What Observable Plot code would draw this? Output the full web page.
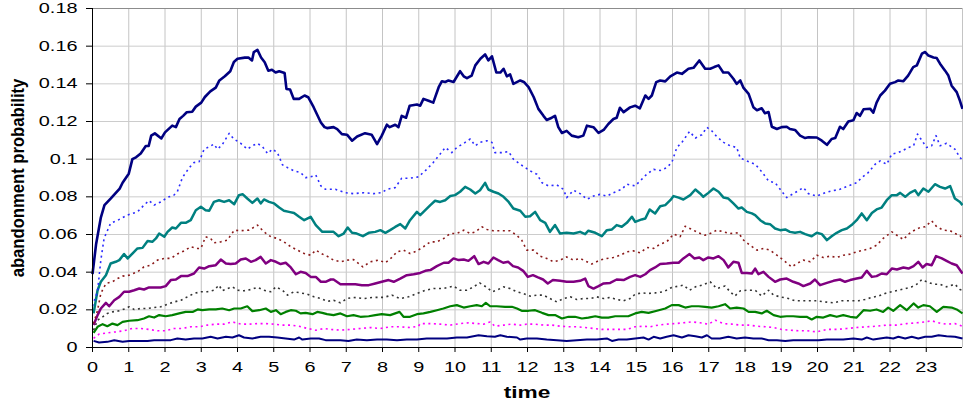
<!DOCTYPE html>
<html>
<head>
<meta charset="utf-8">
<script src="https://cdn.jsdelivr.net/npm/d3@7"></script>
<script src="https://cdn.jsdelivr.net/npm/@observablehq/plot@0.6"></script>
<style>
  html, body { margin: 0; padding: 0; background: #fff; }
  #chart svg { display: block; }
</style>
</head>
<body>
<div id="chart"></div>
<script>
// ---- data: [time (hours), abandonment probability] ----
const seriesTopNavy = [[0,0.039],[0.1,0.055],[0.23,0.069],[0.33,0.0756],[0.5,0.079],[0.75,0.0844],[0.83,0.0875],[1.0,0.0923],[1.1,0.100],[1.2,0.101],[1.33,0.103],[1.47,0.107],[1.55,0.107],[1.62,0.1125],[1.72,0.1137],[1.9,0.111],[2.0,0.1142],[2.2,0.1178],[2.3,0.117],[2.4,0.1213],[2.5,0.123],[2.6,0.1249],[2.75,0.1252],[2.85,0.1279],[3.0,0.130],[3.1,0.133],[3.25,0.136],[3.4,0.138],[3.5,0.1418],[3.65,0.144],[3.8,0.1467],[3.9,0.1516],[4.0,0.1533],[4.2,0.1539],[4.3,0.154],[4.4,0.1524],[4.45,0.1569],[4.55,0.158],[4.65,0.154],[4.75,0.1515],[4.85,0.147],[4.95,0.1475],[5.05,0.146],[5.15,0.1467],[5.3,0.1457],[5.35,0.1373],[5.45,0.137],[5.55,0.132],[5.7,0.132],[5.85,0.1338],[5.95,0.1329],[6.1,0.1276],[6.3,0.1195],[6.4,0.117],[6.47,0.1165],[6.65,0.117],[6.75,0.116],[6.88,0.1133],[7.02,0.113],[7.16,0.1098],[7.3,0.112],[7.52,0.1138],[7.7,0.113],[7.85,0.108],[7.98,0.1125],[8.12,0.1183],[8.2,0.117],[8.35,0.1183],[8.44,0.117],[8.53,0.123],[8.65,0.122],[8.75,0.1284],[8.95,0.129],[9.04,0.1284],[9.13,0.132],[9.27,0.131],[9.4,0.130],[9.55,0.1382],[9.64,0.1414],[9.73,0.141],[9.82,0.1418],[9.96,0.141],[10.14,0.1467],[10.24,0.144],[10.33,0.143],[10.46,0.1444],[10.56,0.1498],[10.7,0.1533],[10.83,0.1556],[10.92,0.1524],[11.02,0.1546],[11.14,0.146],[11.25,0.146],[11.34,0.148],[11.43,0.144],[11.52,0.145],[11.61,0.14],[11.8,0.1418],[11.9,0.141],[12.03,0.1382],[12.17,0.133],[12.3,0.1267],[12.44,0.123],[12.53,0.1208],[12.67,0.122],[12.76,0.123],[12.85,0.117],[12.95,0.1139],[13.08,0.115],[13.22,0.1125],[13.4,0.1116],[13.54,0.1125],[13.64,0.1178],[13.82,0.117],[13.96,0.1139],[14.1,0.1155],[14.23,0.1187],[14.37,0.1213],[14.46,0.122],[14.55,0.1273],[14.65,0.125],[14.83,0.1275],[14.97,0.1284],[15.1,0.127],[15.25,0.1338],[15.34,0.132],[15.43,0.1338],[15.55,0.1409],[15.66,0.1418],[15.8,0.1413],[15.94,0.144],[16.12,0.146],[16.26,0.1453],[16.44,0.148],[16.58,0.1485],[16.74,0.1524],[16.9,0.148],[17.04,0.148],[17.15,0.1489],[17.27,0.1498],[17.4,0.146],[17.54,0.146],[17.68,0.1427],[17.77,0.14],[17.87,0.1418],[17.96,0.1378],[18.1,0.1347],[18.23,0.1276],[18.33,0.126],[18.46,0.127],[18.55,0.1244],[18.65,0.125],[18.74,0.1172],[18.88,0.116],[19.01,0.117],[19.15,0.1172],[19.24,0.116],[19.38,0.1155],[19.52,0.1125],[19.66,0.1112],[19.75,0.1116],[19.98,0.1115],[20.12,0.1098],[20.26,0.1076],[20.39,0.1107],[20.49,0.1112],[20.62,0.1172],[20.71,0.116],[20.85,0.12],[20.99,0.1207],[21.08,0.1245],[21.17,0.123],[21.27,0.1265],[21.45,0.1268],[21.54,0.1247],[21.63,0.130],[21.73,0.1338],[21.86,0.1364],[22.0,0.14],[22.14,0.1409],[22.23,0.1418],[22.37,0.1414],[22.5,0.1444],[22.64,0.1489],[22.74,0.1498],[22.88,0.156],[22.97,0.1569],[23.06,0.155],[23.2,0.154],[23.29,0.1537],[23.38,0.1507],[23.52,0.147],[23.61,0.1444],[23.7,0.139],[23.84,0.1356],[23.93,0.131],[24.0,0.1267]];

const seriesBlueDotted = [[0,0.022],[0.14,0.030],[0.23,0.0464],[0.32,0.058],[0.5,0.066],[0.7,0.0676],[0.96,0.0703],[1.24,0.072],[1.42,0.0756],[1.56,0.078],[1.7,0.0756],[1.88,0.0773],[2.07,0.0797],[2.25,0.081],[2.34,0.0827],[2.48,0.0902],[2.67,0.0955],[2.8,0.0982],[2.94,0.0986],[3.08,0.1053],[3.22,0.1066],[3.35,0.108],[3.45,0.1053],[3.58,0.1077],[3.77,0.1137],[3.9,0.1107],[4.09,0.1084],[4.27,0.1053],[4.41,0.1071],[4.55,0.1084],[4.69,0.1066],[4.83,0.103],[4.96,0.1053],[5.1,0.1035],[5.24,0.097],[5.38,0.0955],[5.56,0.0938],[5.74,0.0929],[5.88,0.0902],[6.02,0.0906],[6.16,0.0916],[6.3,0.0858],[6.43,0.084],[6.7,0.084],[6.97,0.0822],[7.2,0.0817],[7.48,0.0822],[7.75,0.0817],[7.98,0.0822],[8.12,0.084],[8.35,0.0849],[8.53,0.0899],[8.76,0.0899],[8.99,0.0906],[9.22,0.0946],[9.4,0.0982],[9.59,0.1027],[9.73,0.1062],[9.91,0.1035],[10.05,0.1062],[10.24,0.1084],[10.42,0.1107],[10.56,0.1071],[10.69,0.1089],[10.88,0.1098],[11.02,0.1089],[11.1,0.1035],[11.29,0.1035],[11.48,0.104],[11.61,0.100],[11.8,0.0973],[11.94,0.0955],[12.07,0.0938],[12.26,0.092],[12.4,0.0875],[12.58,0.0858],[12.81,0.0863],[12.99,0.084],[13.08,0.0796],[13.27,0.0835],[13.45,0.0817],[13.64,0.0787],[13.82,0.0804],[14.0,0.0813],[14.19,0.0804],[14.37,0.0822],[14.6,0.084],[14.74,0.0867],[14.97,0.0858],[15.15,0.0893],[15.29,0.092],[15.48,0.0946],[15.66,0.094],[15.84,0.0955],[15.98,0.0982],[16.12,0.1062],[16.26,0.1089],[16.47,0.1147],[16.63,0.1112],[16.81,0.113],[16.95,0.1169],[17.08,0.1151],[17.22,0.112],[17.41,0.1089],[17.59,0.1071],[17.77,0.1062],[17.87,0.1005],[18.05,0.0991],[18.28,0.0973],[18.46,0.0934],[18.65,0.0884],[18.83,0.0875],[18.97,0.084],[19.15,0.0796],[19.38,0.0822],[19.61,0.0849],[19.75,0.0817],[19.98,0.0804],[20.21,0.0822],[20.39,0.0831],[20.62,0.084],[20.85,0.0858],[21.08,0.0875],[21.22,0.0902],[21.4,0.0929],[21.59,0.0973],[21.73,0.0991],[21.91,0.0973],[22.05,0.1027],[22.23,0.1035],[22.37,0.1048],[22.51,0.1062],[22.65,0.1071],[22.76,0.1133],[22.87,0.1102],[23.01,0.1062],[23.15,0.1071],[23.27,0.1125],[23.38,0.1071],[23.56,0.1084],[23.79,0.1053],[23.93,0.1009],[24,0.0995]];

const seriesTeal = [[0.03,0.0181],[0.14,0.0304],[0.23,0.0349],[0.37,0.0384],[0.5,0.0446],[0.64,0.0455],[0.74,0.0464],[0.87,0.0496],[0.97,0.0473],[1.1,0.0499],[1.24,0.0526],[1.38,0.0529],[1.52,0.0566],[1.65,0.0561],[1.75,0.0579],[1.84,0.0605],[1.98,0.0588],[2.07,0.0614],[2.2,0.0637],[2.3,0.0632],[2.44,0.0662],[2.57,0.0662],[2.71,0.0676],[2.85,0.0729],[2.99,0.0747],[3.12,0.0729],[3.22,0.0726],[3.35,0.0773],[3.49,0.0782],[3.63,0.0773],[3.77,0.0782],[3.91,0.0761],[4.04,0.0809],[4.14,0.0814],[4.27,0.0791],[4.41,0.0768],[4.55,0.0791],[4.64,0.0765],[4.73,0.0786],[4.87,0.0773],[5.01,0.0765],[5.15,0.0743],[5.28,0.0726],[5.42,0.072],[5.56,0.0714],[5.7,0.0694],[5.84,0.0676],[6.02,0.0694],[6.16,0.065],[6.34,0.0614],[6.47,0.0614],[6.65,0.0614],[6.79,0.0591],[6.93,0.0605],[7.04,0.0637],[7.16,0.0609],[7.29,0.0605],[7.46,0.0591],[7.62,0.0609],[7.8,0.0614],[7.94,0.0623],[8.08,0.0609],[8.21,0.0623],[8.35,0.064],[8.49,0.0655],[8.63,0.0632],[8.76,0.0676],[8.95,0.072],[9.04,0.0703],[9.18,0.0729],[9.32,0.0756],[9.45,0.0779],[9.59,0.0773],[9.73,0.0782],[9.87,0.0804],[10.0,0.0809],[10.14,0.0827],[10.28,0.0853],[10.42,0.0839],[10.56,0.0818],[10.69,0.0835],[10.83,0.0874],[10.92,0.0839],[11.06,0.0827],[11.2,0.0818],[11.34,0.08],[11.48,0.0773],[11.61,0.0738],[11.8,0.0726],[11.94,0.0694],[12.07,0.0697],[12.21,0.072],[12.35,0.0676],[12.49,0.0662],[12.62,0.0614],[12.76,0.065],[12.9,0.0605],[13.08,0.0609],[13.27,0.0605],[13.45,0.0614],[13.59,0.0602],[13.68,0.062],[13.87,0.0609],[14.05,0.0591],[14.19,0.0623],[14.33,0.0627],[14.46,0.065],[14.6,0.0641],[14.74,0.0662],[14.88,0.0694],[14.97,0.0667],[15.15,0.068],[15.25,0.0685],[15.37,0.0733],[15.52,0.0712],[15.66,0.075],[15.8,0.0756],[15.94,0.0782],[16.03,0.0804],[16.17,0.0796],[16.3,0.0786],[16.49,0.0809],[16.63,0.0839],[16.76,0.0818],[16.85,0.08],[16.99,0.0821],[17.13,0.0844],[17.27,0.0827],[17.41,0.0796],[17.54,0.0791],[17.68,0.0765],[17.82,0.0738],[17.91,0.0743],[18.05,0.072],[18.19,0.0712],[18.28,0.0703],[18.42,0.0676],[18.56,0.0658],[18.69,0.0655],[18.83,0.0632],[18.97,0.0623],[19.11,0.0627],[19.24,0.0614],[19.38,0.0609],[19.52,0.0614],[19.66,0.0602],[19.84,0.0591],[19.98,0.0609],[20.12,0.0602],[20.26,0.057],[20.39,0.0591],[20.53,0.0609],[20.67,0.0623],[20.81,0.0632],[20.94,0.065],[21.08,0.0676],[21.22,0.0712],[21.36,0.0676],[21.5,0.0714],[21.63,0.0733],[21.77,0.0743],[21.91,0.0782],[22.05,0.0809],[22.19,0.0809],[22.28,0.0821],[22.42,0.08],[22.55,0.0821],[22.69,0.0835],[22.78,0.0809],[22.92,0.0844],[23.06,0.0827],[23.24,0.0867],[23.38,0.0853],[23.52,0.0844],[23.66,0.0857],[23.79,0.0791],[23.93,0.0773],[24,0.0756]];

const seriesBrownDotted = [[0.03,0.0127],[0.14,0.0198],[0.23,0.0287],[0.37,0.034],[0.55,0.0349],[0.69,0.0366],[0.83,0.0379],[1.01,0.0384],[1.24,0.0402],[1.42,0.0428],[1.61,0.0437],[1.79,0.0464],[1.98,0.0473],[2.16,0.0473],[2.34,0.0496],[2.53,0.0513],[2.71,0.0535],[2.9,0.0526],[2.99,0.0526],[3.12,0.0588],[3.26,0.0579],[3.35,0.0556],[3.54,0.0561],[3.72,0.057],[3.91,0.0623],[4.09,0.062],[4.32,0.0623],[4.55,0.065],[4.73,0.0614],[4.92,0.0588],[5.1,0.0579],[5.28,0.0561],[5.47,0.0535],[5.65,0.0517],[5.84,0.0499],[6.02,0.049],[6.16,0.0517],[6.34,0.0496],[6.47,0.0485],[6.65,0.0464],[6.84,0.0455],[7.02,0.0464],[7.2,0.0467],[7.46,0.0428],[7.66,0.0455],[7.89,0.0464],[8.08,0.045],[8.26,0.0478],[8.4,0.0508],[8.58,0.0517],[8.76,0.0499],[8.95,0.0513],[9.13,0.0535],[9.32,0.0561],[9.5,0.0561],[9.69,0.0579],[9.87,0.0605],[10.05,0.0605],[10.24,0.0623],[10.42,0.0605],[10.56,0.0614],[10.74,0.0641],[10.88,0.0627],[11.06,0.062],[11.29,0.062],[11.52,0.062],[11.7,0.0596],[11.84,0.057],[11.98,0.0517],[12.17,0.0517],[12.35,0.0485],[12.53,0.0473],[12.72,0.0455],[12.9,0.0464],[13.08,0.0481],[13.27,0.0464],[13.45,0.0473],[13.64,0.0455],[13.77,0.0443],[14.0,0.0464],[14.19,0.0473],[14.37,0.0478],[14.56,0.049],[14.74,0.0508],[14.92,0.0513],[15.11,0.0503],[15.29,0.0531],[15.48,0.0526],[15.66,0.0549],[15.84,0.0561],[16.03,0.0602],[16.21,0.0588],[16.35,0.0644],[16.53,0.0627],[16.72,0.0609],[16.9,0.0596],[17.08,0.0609],[17.22,0.0623],[17.41,0.0614],[17.59,0.0605],[17.82,0.0609],[17.96,0.057],[18.14,0.0543],[18.33,0.0517],[18.51,0.0526],[18.69,0.0517],[18.88,0.049],[19.06,0.0464],[19.29,0.0428],[19.43,0.0446],[19.61,0.0464],[19.8,0.0455],[19.98,0.049],[20.16,0.0478],[20.35,0.0485],[20.53,0.0478],[20.71,0.049],[20.9,0.0496],[21.08,0.0508],[21.27,0.0517],[21.45,0.0526],[21.63,0.0543],[21.81,0.0579],[22.05,0.0614],[22.19,0.0596],[22.37,0.0573],[22.51,0.0602],[22.65,0.062],[22.83,0.0637],[22.97,0.0641],[23.15,0.0673],[23.29,0.0641],[23.47,0.0623],[23.66,0.062],[23.79,0.0605],[23.93,0.0596],[24,0.057]];

const seriesPurple = [[0.03,0.0119],[0.14,0.0172],[0.23,0.0207],[0.37,0.0237],[0.46,0.0219],[0.6,0.0251],[0.74,0.0269],[0.87,0.0296],[1.01,0.0296],[1.15,0.0304],[1.29,0.0313],[1.42,0.0308],[1.56,0.0319],[1.7,0.0319],[1.88,0.0319],[2.02,0.0326],[2.16,0.0358],[2.3,0.0361],[2.44,0.0379],[2.62,0.0379],[2.8,0.0393],[2.94,0.0425],[3.08,0.0419],[3.22,0.0432],[3.4,0.0437],[3.54,0.0467],[3.68,0.0446],[3.81,0.0443],[3.95,0.0446],[4.09,0.0467],[4.23,0.0473],[4.37,0.0455],[4.5,0.0464],[4.64,0.0481],[4.78,0.0446],[4.92,0.0464],[5.06,0.0455],[5.19,0.0443],[5.33,0.045],[5.47,0.0425],[5.61,0.0389],[5.74,0.0402],[5.88,0.0396],[6.02,0.0375],[6.16,0.0375],[6.3,0.0349],[6.43,0.0349],[6.57,0.0361],[6.65,0.0361],[6.84,0.0336],[7.06,0.0336],[7.25,0.0336],[7.43,0.0331],[7.62,0.0331],[7.8,0.034],[7.98,0.0349],[8.17,0.0358],[8.31,0.0349],[8.49,0.0366],[8.67,0.0384],[8.86,0.0389],[9.04,0.0396],[9.18,0.0407],[9.32,0.0411],[9.5,0.0432],[9.69,0.045],[9.82,0.045],[9.96,0.0473],[10.1,0.0464],[10.24,0.0467],[10.37,0.046],[10.53,0.0485],[10.65,0.0443],[10.79,0.0455],[10.92,0.0446],[11.06,0.0478],[11.19,0.0464],[11.33,0.045],[11.47,0.0455],[11.6,0.0432],[11.74,0.0425],[11.88,0.0407],[12.01,0.0375],[12.15,0.0384],[12.29,0.0372],[12.43,0.0361],[12.56,0.034],[12.7,0.0358],[12.9,0.0354],[13.08,0.0349],[13.27,0.0349],[13.45,0.0354],[13.59,0.0366],[13.68,0.0326],[13.82,0.0313],[13.96,0.0326],[14.1,0.034],[14.28,0.0343],[14.46,0.0361],[14.65,0.0358],[14.83,0.0375],[14.97,0.0384],[15.11,0.0375],[15.25,0.0389],[15.38,0.0411],[15.52,0.0425],[15.66,0.0443],[15.84,0.0446],[16.03,0.045],[16.17,0.045],[16.3,0.0473],[16.47,0.0496],[16.6,0.0473],[16.74,0.0478],[16.85,0.0464],[16.99,0.0478],[17.13,0.0473],[17.27,0.0485],[17.41,0.0464],[17.54,0.0425],[17.68,0.0455],[17.82,0.045],[17.91,0.0396],[18.05,0.0396],[18.19,0.0393],[18.28,0.0419],[18.37,0.0389],[18.51,0.0402],[18.65,0.0375],[18.83,0.0349],[18.97,0.0361],[19.15,0.0366],[19.33,0.0349],[19.47,0.034],[19.61,0.0326],[19.8,0.034],[19.93,0.0361],[20.07,0.0331],[20.26,0.0343],[20.44,0.0354],[20.62,0.0361],[20.76,0.0349],[20.9,0.0358],[21.08,0.0366],[21.22,0.0372],[21.36,0.0407],[21.5,0.0375],[21.63,0.0379],[21.77,0.0393],[21.91,0.0389],[22.05,0.0419],[22.19,0.0414],[22.37,0.0425],[22.51,0.0419],[22.65,0.0432],[22.78,0.0455],[22.9,0.0425],[23.01,0.0443],[23.15,0.0437],[23.27,0.0485],[23.43,0.0473],[23.56,0.046],[23.7,0.0446],[23.84,0.0437],[24,0.0393]];

const seriesBlackDotted = [[0.03,0.0092],[0.14,0.0145],[0.28,0.0163],[0.41,0.0181],[0.55,0.0189],[0.74,0.0195],[0.92,0.0207],[1.01,0.0216],[1.15,0.0202],[1.33,0.0207],[1.52,0.0207],[1.7,0.0212],[1.88,0.0216],[2.07,0.023],[2.25,0.0242],[2.44,0.0251],[2.62,0.0269],[2.8,0.0287],[2.99,0.0296],[3.17,0.0296],[3.35,0.0304],[3.49,0.0331],[3.58,0.0301],[3.72,0.0313],[3.86,0.0322],[4.0,0.0304],[4.18,0.0301],[4.37,0.0308],[4.55,0.0319],[4.73,0.0304],[4.92,0.0296],[5.06,0.0322],[5.24,0.0304],[5.38,0.0278],[5.56,0.0296],[5.74,0.029],[5.93,0.0283],[6.11,0.0269],[6.3,0.026],[6.48,0.0245],[6.65,0.0251],[6.84,0.0237],[7.02,0.026],[7.2,0.0266],[7.48,0.026],[7.75,0.0266],[8.03,0.0266],[8.26,0.0278],[8.49,0.026],[8.72,0.0269],[8.95,0.0287],[9.18,0.0304],[9.41,0.0313],[9.68,0.0313],[9.96,0.0326],[10.14,0.0304],[10.33,0.0304],[10.51,0.0322],[10.68,0.0343],[10.88,0.0319],[11.02,0.0296],[11.15,0.0304],[11.34,0.0322],[11.52,0.0313],[11.7,0.0296],[11.88,0.0287],[12.07,0.0273],[12.26,0.0278],[12.44,0.0278],[12.62,0.026],[12.81,0.0242],[12.99,0.026],[13.18,0.0269],[13.36,0.0255],[13.54,0.026],[13.73,0.026],[13.91,0.0269],[14.1,0.026],[14.28,0.0266],[14.46,0.0255],[14.65,0.0248],[14.83,0.026],[14.97,0.0283],[15.15,0.029],[15.34,0.0287],[15.52,0.029],[15.75,0.0296],[15.98,0.0319],[16.17,0.0326],[16.3,0.0331],[16.47,0.0304],[16.63,0.0322],[16.81,0.0331],[17.04,0.0349],[17.22,0.0313],[17.45,0.0326],[17.59,0.0296],[17.72,0.0273],[17.87,0.0301],[18.05,0.0304],[18.28,0.0304],[18.46,0.0273],[18.65,0.0304],[18.79,0.0278],[18.97,0.0269],[19.2,0.026],[19.38,0.0248],[19.56,0.0248],[19.8,0.0248],[19.98,0.0248],[20.21,0.0242],[20.44,0.0237],[20.67,0.0248],[20.9,0.0248],[21.13,0.0248],[21.31,0.0255],[21.5,0.0266],[21.68,0.0273],[21.86,0.0287],[22.05,0.0296],[22.23,0.0304],[22.42,0.0313],[22.6,0.0322],[22.74,0.0336],[22.88,0.0361],[23.01,0.0349],[23.2,0.0336],[23.38,0.0336],[23.56,0.0322],[23.79,0.0336],[23.93,0.0308],[24,0.0304]];

const seriesGreen = [[0.03,0.0078],[0.14,0.011],[0.28,0.0124],[0.41,0.0113],[0.55,0.0127],[0.69,0.0119],[0.83,0.0136],[1.01,0.0142],[1.24,0.0145],[1.42,0.0154],[1.56,0.0166],[1.7,0.0159],[1.84,0.0172],[2.02,0.0166],[2.2,0.0172],[2.39,0.0181],[2.57,0.0189],[2.76,0.0189],[2.9,0.0202],[3.03,0.0198],[3.22,0.0202],[3.4,0.0202],[3.58,0.0207],[3.77,0.0198],[3.91,0.0207],[4.09,0.0207],[4.27,0.0219],[4.41,0.0193],[4.6,0.0198],[4.78,0.0207],[4.92,0.0189],[5.06,0.0198],[5.19,0.0177],[5.33,0.0189],[5.47,0.0198],[5.61,0.0195],[5.74,0.0181],[5.88,0.0184],[6.07,0.0177],[6.2,0.0189],[6.34,0.0184],[6.47,0.0177],[6.65,0.0172],[6.84,0.0181],[7.02,0.0166],[7.2,0.0172],[7.39,0.0163],[7.62,0.0166],[7.8,0.0172],[7.98,0.0177],[8.21,0.0172],[8.35,0.0181],[8.47,0.0189],[8.58,0.0163],[8.76,0.0163],[8.95,0.0177],[9.13,0.0181],[9.32,0.0189],[9.5,0.0198],[9.68,0.0207],[9.87,0.0219],[10.05,0.0225],[10.24,0.0212],[10.42,0.0219],[10.6,0.0225],[10.74,0.0219],[10.85,0.0237],[10.97,0.0219],[11.15,0.0219],[11.38,0.0216],[11.57,0.0216],[11.71,0.0207],[11.84,0.0195],[12.03,0.0195],[12.21,0.0198],[12.4,0.0184],[12.58,0.0172],[12.76,0.0172],[12.95,0.0154],[13.13,0.0163],[13.31,0.0163],[13.5,0.0154],[13.68,0.0159],[13.87,0.0166],[14.05,0.0159],[14.23,0.0159],[14.42,0.0166],[14.6,0.0166],[14.78,0.0166],[14.97,0.0181],[15.15,0.0189],[15.34,0.0184],[15.57,0.0195],[15.8,0.0207],[15.98,0.0225],[16.17,0.0225],[16.35,0.0212],[16.53,0.0219],[16.72,0.0219],[16.9,0.0216],[17.08,0.0212],[17.27,0.0219],[17.45,0.023],[17.59,0.0207],[17.77,0.0212],[17.96,0.0207],[18.1,0.0189],[18.28,0.0189],[18.46,0.0181],[18.6,0.0195],[18.79,0.0172],[18.97,0.0163],[19.15,0.0166],[19.33,0.0166],[19.52,0.0163],[19.7,0.0163],[19.84,0.0149],[19.98,0.0163],[20.16,0.0159],[20.35,0.0172],[20.53,0.0163],[20.71,0.0172],[20.9,0.0163],[21.08,0.0159],[21.27,0.0198],[21.45,0.0195],[21.63,0.0202],[21.81,0.0189],[21.95,0.0212],[22.09,0.0195],[22.28,0.0225],[22.46,0.0198],[22.65,0.0234],[22.78,0.0212],[22.92,0.0225],[23.1,0.0219],[23.29,0.0189],[23.47,0.0216],[23.7,0.0212],[23.84,0.0202],[24,0.0181]];

const seriesMagentaDotted = [[0.03,0.0048],[0.18,0.0071],[0.41,0.0078],[0.64,0.0083],[0.87,0.0089],[1.1,0.0101],[1.33,0.0101],[1.56,0.0096],[1.79,0.0089],[2.02,0.0089],[2.25,0.0101],[2.48,0.0101],[2.71,0.011],[2.94,0.011],[3.17,0.0119],[3.4,0.0124],[3.63,0.0124],[3.86,0.0136],[4.09,0.0124],[4.32,0.0124],[4.55,0.0127],[4.78,0.0127],[5.01,0.0124],[5.24,0.0119],[5.47,0.0119],[5.7,0.0113],[5.93,0.0101],[6.16,0.0092],[6.39,0.0101],[6.57,0.0096],[6.84,0.0092],[7.11,0.0096],[7.39,0.0101],[7.66,0.0106],[7.94,0.0101],[8.21,0.011],[8.49,0.011],[8.76,0.0106],[8.99,0.0113],[9.04,0.0127],[9.32,0.0127],[9.59,0.0124],[9.87,0.0119],[10.14,0.0127],[10.37,0.0131],[10.6,0.0127],[10.79,0.0124],[10.97,0.0136],[11.1,0.0113],[11.34,0.0119],[11.57,0.0124],[11.8,0.0119],[11.98,0.0124],[12.21,0.0124],[12.44,0.0119],[12.67,0.0119],[12.9,0.0113],[13.13,0.011],[13.36,0.011],[13.59,0.0106],[13.82,0.0101],[14.05,0.0096],[14.28,0.0096],[14.51,0.0096],[14.74,0.0096],[14.97,0.011],[15.2,0.0113],[15.38,0.011],[15.61,0.0119],[15.84,0.0124],[16.07,0.0127],[16.3,0.0131],[16.53,0.0136],[16.76,0.0131],[16.99,0.0124],[17.18,0.0145],[17.41,0.0127],[17.64,0.0124],[17.87,0.0119],[18.1,0.0119],[18.33,0.0113],[18.56,0.011],[18.79,0.0106],[19.01,0.0096],[19.24,0.0092],[19.47,0.0089],[19.7,0.0089],[19.98,0.0083],[20.26,0.0096],[20.53,0.0096],[20.81,0.0101],[21.08,0.0106],[21.36,0.011],[21.63,0.0113],[21.91,0.0119],[22.19,0.0119],[22.46,0.0127],[22.74,0.0131],[22.97,0.0136],[23.15,0.0142],[23.34,0.0131],[23.56,0.0124],[23.79,0.0127],[24,0.0113]];

const seriesBottomNavy = [[0.03,0.0035],[0.18,0.0027],[0.41,0.003],[0.6,0.0039],[0.83,0.003],[1.01,0.0035],[1.24,0.0035],[1.52,0.0035],[1.7,0.0039],[1.93,0.0039],[2.16,0.0039],[2.34,0.0048],[2.57,0.0042],[2.8,0.0048],[3.03,0.0048],[3.26,0.0057],[3.45,0.0048],[3.68,0.0057],[3.86,0.0053],[4.04,0.0065],[4.18,0.0053],[4.41,0.0048],[4.64,0.0057],[4.87,0.0057],[5.1,0.0053],[5.33,0.0048],[5.56,0.0042],[5.7,0.0053],[5.79,0.0042],[6.02,0.0048],[6.25,0.0048],[6.43,0.0039],[6.56,0.0039],[6.84,0.0039],[7.06,0.0035],[7.29,0.0042],[7.57,0.0039],[7.85,0.0042],[8.12,0.0042],[8.4,0.0039],[8.67,0.0042],[8.95,0.0042],[9.22,0.0048],[9.5,0.0048],[9.78,0.0048],[10.05,0.0053],[10.33,0.0053],[10.65,0.0065],[10.88,0.006],[11.1,0.0057],[11.25,0.0065],[11.43,0.0057],[11.71,0.0053],[11.8,0.0042],[11.98,0.0048],[12.26,0.0048],[12.53,0.0042],[12.81,0.0039],[13.08,0.0035],[13.36,0.0039],[13.64,0.0042],[13.91,0.0042],[14.19,0.0048],[14.33,0.0035],[14.51,0.0042],[14.74,0.0042],[14.97,0.0048],[15.2,0.0053],[15.34,0.0042],[15.48,0.0057],[15.66,0.0048],[15.84,0.0057],[16.03,0.0065],[16.26,0.0053],[16.44,0.0065],[16.63,0.006],[16.81,0.0053],[16.95,0.0065],[17.08,0.0048],[17.31,0.0048],[17.54,0.0057],[17.77,0.0048],[18.0,0.0053],[18.23,0.0048],[18.46,0.0048],[18.65,0.0039],[18.88,0.0039],[19.11,0.0035],[19.33,0.0039],[19.56,0.0039],[19.8,0.0039],[20.03,0.0039],[20.26,0.0042],[20.49,0.0042],[20.71,0.0042],[20.99,0.0048],[21.22,0.0042],[21.36,0.0053],[21.54,0.0042],[21.72,0.0048],[21.91,0.0053],[22.09,0.0048],[22.23,0.0057],[22.42,0.0048],[22.6,0.0057],[22.78,0.0048],[22.97,0.0057],[23.15,0.0057],[23.34,0.0065],[23.56,0.006],[23.79,0.0057],[24,0.0048]];

// ---- ticks / labels ----
const xTicks = [0,1,2,3,4,5,6,7,8,9,10,11,12,13,14,15,16,17,18,19,20,21,22,23];
const yTicks = [0,0.02,0.04,0.06,0.08,0.1,0.12,0.14,0.16,0.18];
const yTickLabels = ["0","0.02","0.04","0.06","0.08","0.1","0.12","0.14","0.16","0.18"];
const xTitle = "time";
const yTitle = "abandonment probability";

// series styling (drawing order bottom -> top)
const seriesList = [
  {data: seriesBottomNavy,    stroke: "#000080", width: 2.0, dash: null},
  {data: seriesMagentaDotted, stroke: "#ff00ff", width: 1.6, dash: "2,3.5"},
  {data: seriesGreen,         stroke: "#008000", width: 2.2, dash: null},
  {data: seriesBlackDotted,   stroke: "#333333", width: 1.6, dash: "2,3.5"},
  {data: seriesPurple,        stroke: "#800080", width: 2.5, dash: null},
  {data: seriesBrownDotted,   stroke: "#8b1a1a", width: 1.6, dash: "2,3.5"},
  {data: seriesTeal,          stroke: "#008080", width: 2.5, dash: null},
  {data: seriesBlueDotted,    stroke: "#2b2bff", width: 1.6, dash: "2,3.5"},
  {data: seriesTopNavy,       stroke: "#000080", width: 2.6, dash: null}
];

const font = "'Liberation Sans', Arial, Helvetica, sans-serif";

const chart = Plot.plot({
  width: 963,
  height: 403,
  marginLeft: 92,
  marginRight: 1,
  marginTop: 8,
  marginBottom: 56,
  style: {fontFamily: font, fontSize: "14px", color: "#000", background: "#fff"},
  x: {domain: [0, 24]},
  y: {domain: [0, 0.18]},
  marks: [
    Plot.gridX(xTicks.slice(1).concat([24]), {stroke: "#c4c4c4", strokeOpacity: 1, strokeWidth: 1}),
    Plot.gridY(yTicks.slice(1, -1), {stroke: "#cccccc", strokeOpacity: 1, strokeWidth: 1}),
    Plot.ruleY([yTicks[yTicks.length - 1]], {stroke: "#8c8c8c", strokeWidth: 1}),
    ...seriesList.map(s => Plot.line(s.data, {
      x: d => d[0], y: d => d[1],
      stroke: s.stroke, strokeWidth: s.width,
      strokeDasharray: s.dash || undefined,
      strokeLinejoin: "round", strokeLinecap: "butt"
    })),
    Plot.ruleX([0], {stroke: "#000", strokeWidth: 1}),
    Plot.ruleY([0], {stroke: "#000", strokeWidth: 1}),
    Plot.axisY(yTicks, {tickFormat: (d, i) => yTickLabels[i], tickSize: 6, tickPadding: 9, label: null, stroke: "#000", fill: "#000"}),
    Plot.axisX(xTicks, {tickFormat: d => String(d), tickSize: 5, tickPadding: 10, label: null, stroke: "#000", fill: "#000"})
  ]
});

document.getElementById("chart").appendChild(chart);

// horizontally widened tick labels, as in the reference
const svg = d3.select(chart.tagName.toLowerCase() === "svg" ? chart : chart.querySelector("svg"));
svg.selectAll('g[aria-label="y-axis tick label"] text, g[aria-label="x-axis tick label"] text').each(function() {
  const t = this.getAttribute("transform") || "";
  this.setAttribute("transform", t + " scale(1.42,1)");
});

// axis titles
svg.append("text")
  .attr("transform", "translate(18,178) rotate(-90) scale(0.9,1)")
  .attr("text-anchor", "middle")
  .attr("dominant-baseline", "central")
  .style("font-family", font)
  .style("font-weight", "bold")
  .style("font-size", "18.5px")
  .attr("fill", "#000")
  .text(yTitle);

svg.append("text")
  .attr("transform", "translate(527,398) scale(1.42,1)")
  .attr("text-anchor", "middle")
  .style("font-family", font)
  .style("font-weight", "bold")
  .style("font-size", "16px")
  .attr("fill", "#000")
  .text(xTitle);
</script>
</body>
</html>
